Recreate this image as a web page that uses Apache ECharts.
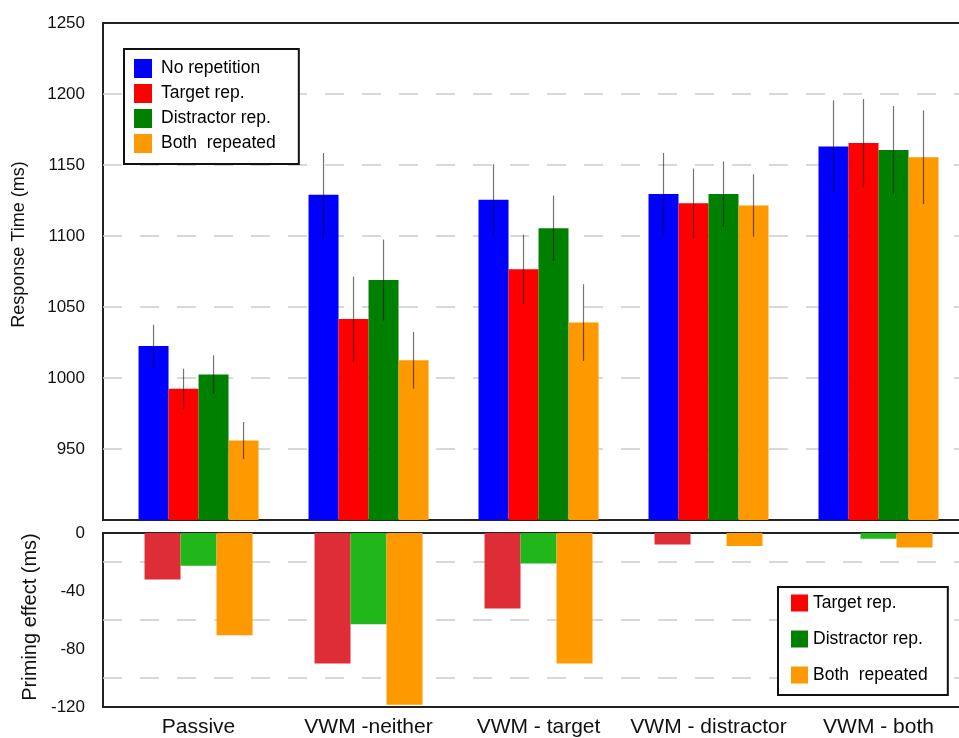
<!DOCTYPE html>
<html>
<head>
<meta charset="utf-8">
<script src="https://cdn.jsdelivr.net/npm/echarts@6/dist/echarts.min.js"></script>
<style>
html,body{margin:0;padding:0;background:#fff;}
#chart{width:959px;height:738px;}
</style>
</head>
<body>
<div id="chart"></div>
<script>
// ---- data ----
const categories = ['Passive', 'VWM -neither', 'VWM - target', 'VWM - distractor', 'VWM - both'];
const seriesNames = ['No repetition', 'Target rep.', 'Distractor rep.', 'Both  repeated'];

const noRep         = [1022.5, 1129, 1125.5, 1129.5, 1163];
const targetRep     = [992.5, 1041.5, 1076.5, 1123, 1165.5];
const distractorRep = [1002.5, 1069, 1105.5, 1129.5, 1160.5];
const bothRep       = [956, 1012.5, 1039, 1121.5, 1155.5];

const noRepErr         = [15, 29.5, 25, 29, 32.5];
const targetRepErr     = [14, 30, 24.5, 24.5, 31];
const distractorRepErr = [13.5, 28.5, 23, 23, 31];
const bothRepErr       = [13, 20, 27, 22, 33];

const primTarget     = [-32, -90, -52, -8, 0];
const primDistractor = [-22.5, -63, -21, 0, -4];
const primBoth       = [-70.5, -118.5, -90, -9, -10];

const rtTicks = [900, 1250, 50];
const primTicks = [-120, 0, 20];

// ---- styling ----
const topColors = ['#0000FF', '#FF0000', '#008000', '#FF9900'];
const botColors = ['#DE2D36', '#21B71B', '#FF9900'];
const legendBotColors = ['#FF0000', '#008000', '#FF9900'];
const TOP_BAR_W = 30;
const BOT_BAR_W = 36;
const X_MIN = -0.562, X_MAX = 4.65;
const dash = [19, 18];
const GRID_LEFT = 103, GRID_W = 886;

const topValues = [noRep, targetRep, distractorRep, bothRep];
const topErrs = [noRepErr, targetRepErr, distractorRepErr, bothRepErr];
const botValues = [primTarget, primDistractor, primBoth];

const series = [];
topValues.forEach((vals, s) => {
  series.push({
    name: seriesNames[s], type: 'bar', xAxisIndex: 0, yAxisIndex: 0,
    barWidth: TOP_BAR_W, barGap: '0%',
    itemStyle: { color: topColors[s] },
    data: vals.map((v, i) => [i, v]),
    z: 2
  });
});
const errData = [];
topValues.forEach((vals, s) => {
  vals.forEach((v, i) => errData.push([i, v - topErrs[s][i], v + topErrs[s][i], s]));
});
series.push({
  name: 'errorbars', type: 'custom', xAxisIndex: 0, yAxisIndex: 0,
  encode: { x: 0, y: [1, 2] },
  data: errData, z: 5, silent: true,
  renderItem: function (params, api) {
    const x = api.value(0), lo = api.value(1), hi = api.value(2), s = api.value(3);
    const p1 = api.coord([x, lo]), p2 = api.coord([x, hi]);
    const dx = (s - 1.5) * TOP_BAR_W;
    return { type: 'line', shape: { x1: p1[0] + dx, y1: p1[1], x2: p1[0] + dx, y2: p2[1] },
      style: { stroke: 'rgba(0,0,0,0.55)', lineWidth: 1.2 } };
  }
});
botValues.forEach((vals, s) => {
  series.push({
    name: seriesNames[s + 1], type: 'bar', xAxisIndex: 1, yAxisIndex: 1,
    barWidth: BOT_BAR_W, barGap: '0%',
    itemStyle: { color: botColors[s] },
    data: vals.map((v, i) => [i, v]),
    z: 2
  });
});

// split line colours: hide lines that coincide with the frame
const topLineCount = Math.round((rtTicks[1] - rtTicks[0]) / rtTicks[2]) + 1;
const topLineColors = [];
for (let k = 0; k < topLineCount; k++) topLineColors.push((k === 0 || k === topLineCount - 1) ? 'rgba(0,0,0,0)' : '#cccccc');

const tickFont = { fontFamily: 'Liberation Sans, Arial, sans-serif', color: '#111' };
const chart = echarts.init(document.getElementById('chart'), null, { renderer: 'canvas' });
chart.setOption({
  animation: false,
  backgroundColor: '#fff',
  grid: [
    { left: GRID_LEFT, top: 23, height: 497, width: GRID_W, outerBoundsMode: 'none', containLabel: false,
      show: true, borderColor: '#222', borderWidth: 2, backgroundColor: 'transparent' },
    { left: GRID_LEFT, top: 533, height: 174, width: GRID_W, outerBoundsMode: 'none', containLabel: false,
      show: true, borderColor: '#222', borderWidth: 2, backgroundColor: 'transparent' }
  ],
  xAxis: [
    { type: 'value', gridIndex: 0, min: X_MIN, max: X_MAX, minInterval: 1, maxInterval: 1,
      axisLine: { show: false }, axisTick: { show: false }, axisLabel: { show: false }, splitLine: { show: false } },
    { type: 'value', gridIndex: 1, min: X_MIN, max: X_MAX, minInterval: 1, maxInterval: 1,
      axisLine: { show: false }, axisTick: { show: false }, splitLine: { show: false },
      axisLabel: Object.assign({ customValues: categories.map((c, i) => i), fontSize: 21, margin: 10,
        formatter: v => (Number.isInteger(v) && categories[v] !== undefined) ? categories[v] : '' }, tickFont) }
  ],
  yAxis: [
    { type: 'value', gridIndex: 0, min: rtTicks[0], max: rtTicks[1], interval: rtTicks[2],
      name: 'Response Time (ms)', nameLocation: 'middle', nameRotate: 90, nameGap: 75,
      nameTextStyle: Object.assign({ fontSize: 18, padding: [0, 0, 0, 54] }, tickFont),
      axisLine: { show: false }, axisTick: { show: false },
      axisLabel: Object.assign({ fontSize: 17, margin: 18, showMinLabel: false, formatter: v => String(v) }, tickFont),
      splitLine: { show: true, lineStyle: { color: topLineColors, width: 1.5, type: dash } } },
    { type: 'value', gridIndex: 1, min: primTicks[0], max: primTicks[1], interval: primTicks[2],
      name: 'Priming effect (ms)', nameLocation: 'middle', nameRotate: 90, nameGap: 63,
      nameTextStyle: Object.assign({ fontSize: 20, padding: [0, 0, 0, 6] }, tickFont),
      axisLine: { show: false }, axisTick: { show: false },
      axisLabel: Object.assign({ fontSize: 17, margin: 18, formatter: v => (v % 40 === 0 ? String(v) : '') }, tickFont),
      splitLine: { show: true, lineStyle: { color: ['rgba(0,0,0,0)', '#cccccc'], width: 1.5, type: dash } } }
  ],
  legend: [
    { orient: 'vertical', left: 124, top: 49, padding: [10, 23, 11, 10],
      itemWidth: 18, itemHeight: 19, itemGap: 6, icon: 'rect',
      backgroundColor: '#fff', borderColor: '#111', borderWidth: 2,
      textStyle: { fontSize: 17.5, color: '#000', fontFamily: 'Liberation Sans, Arial, sans-serif', padding: [0, 0, 0, 4] },
      data: seriesNames.slice(), selectedMode: false },
    { orient: 'vertical', left: 778, top: 587, padding: [7, 20, 11, 13],
      itemWidth: 17, itemHeight: 17, itemGap: 18, icon: 'rect',
      backgroundColor: '#fff', borderColor: '#111', borderWidth: 2,
      textStyle: { fontSize: 17.5, color: '#000', fontFamily: 'Liberation Sans, Arial, sans-serif' },
      data: seriesNames.slice(1).map((n, i) => ({ name: n, itemStyle: { color: legendBotColors[i] } })),
      selectedMode: false }
  ],
  series: series
});
</script>
</body>
</html>
